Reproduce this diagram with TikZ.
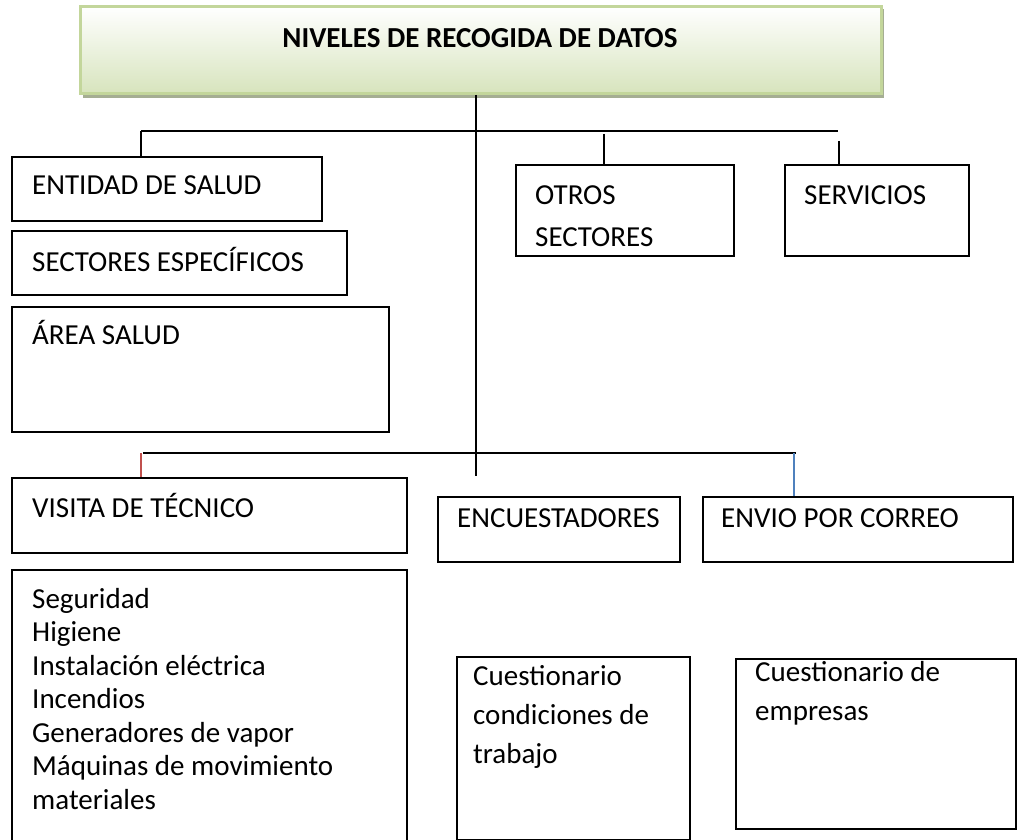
\documentclass[tikz,border=0pt]{standalone}
\usepackage{fontspec}
\setmainfont{Carlito}
\definecolor{tborder}{HTML}{C3D69B}
\definecolor{tshadow}{HTML}{A5AE93}
\definecolor{tfill}{HTML}{D7E4BD}
\definecolor{redtick}{HTML}{C0504D}
\definecolor{bluetick}{HTML}{4F81BD}
\tikzset{
  box/.style={draw, line width=1.6pt, inner sep=0pt, anchor=north west},
  txt/.style={inner sep=0pt, anchor=base west, align=left, font=\fontsize{29}{33.5}\selectfont},
  conn/.style={line width=1.8pt},
  tick/.style={line width=1.4pt}
}
\begin{document}
\begin{tikzpicture}[x=1pt,y=-1pt]
\useasboundingbox (0,0) rectangle (1017,840);
\clip (0,0) rectangle (1017,840);
% title
\fill[tshadow] (83,9) rectangle (884,98);
\node[anchor=north west, minimum width=801pt, minimum height=87pt, inner sep=0pt,
      top color=white, bottom color=tfill, draw=tborder, line width=3pt] (title) at (79,5) {};
\node[inner sep=0pt, font=\fontsize{29}{33.5}\selectfont\bfseries] (titleT) at (480,38) {NIVELES DE RECOGIDA DE DATOS};
% coordinates
\coordinate (top) at (476,98);
\coordinate (bot) at (476,476);
\coordinate (b1l) at (141,131);
\coordinate (b1r) at (838,131);
\coordinate (b2l) at (143,453);
\coordinate (b2r) at (796,453);
\coordinate (t1) at (604,134);
\coordinate (t2) at (839,141);
\coordinate (t3) at (141,453);
\coordinate (t4) at (794,453);
% boxes upper
\node[box, minimum width=310pt, minimum height=64pt] (ent) at (11,156) {};
\node[box, minimum width=335pt, minimum height=64pt] (sec) at (11,230) {};
\node[box, minimum width=377pt, minimum height=125pt] (area) at (11,306) {};
\node[box, minimum width=218pt, minimum height=91pt] (otros) at (515,164) {};
\node[box, minimum width=184pt, minimum height=91pt] (serv) at (784,164) {};
% boxes lower
\node[box, minimum width=395pt, minimum height=75pt] (vis) at (11,477) {};
\node[box, minimum width=242pt, minimum height=65pt] (enc) at (437,496) {};
\node[box, minimum width=310pt, minimum height=65pt] (env) at (702,496) {};
\node[box, minimum width=395pt, minimum height=290pt] (list) at (11,569) {};
\node[box, minimum width=233pt, minimum height=183pt] (cuest1) at (456,656) {};
\node[box, minimum width=280pt, minimum height=170pt] (cuest2) at (735,658) {};
% texts (multi-line nodes: base = last line)
\node[txt] (entT) at (32,194) {ENTIDAD DE SALUD};
\node[txt] (secT) at (32,271) {SECTORES ESPECÍFICOS};
\node[txt] (areaT) at (32,344) {ÁREA SALUD};
\node[txt, font=\fontsize{29}{42}\selectfont] (otrosT) at (535,246) {OTROS\\SECTORES};
\node[txt] (servT) at (804,204) {SERVICIOS};
\node[txt] (visT) at (32,517) {VISITA DE TÉCNICO};
\node[txt] (encT) at (457,527) {ENCUESTADORES};
\node[txt] (envT) at (721,527) {ENVIO POR CORREO};
\node[txt] (listT) at (32,809) {Seguridad\\Higiene\\Instalación eléctrica\\Incendios\\Generadores de vapor\\Máquinas de movimiento\\materiales};
\node[txt, font=\fontsize{29}{39}\selectfont] (c1T) at (473,763) {Cuestionario\\condiciones de\\trabajo};
\node[txt, font=\fontsize{29}{39}\selectfont] (c2T) at (755,720) {Cuestionario de\\empresas};
% connectors
\draw[conn] (title.south -| top) -- (bot);
\draw[conn] (b1l) -- (b1r);
\draw[conn] (b2l) -- (b2r);
\draw[conn] (b1l) -- (ent.north -| b1l);
\draw[conn] (t1) -- (otros.north -| t1);
\draw[conn] (t2) -- (serv.north -| t2);
\draw[tick, redtick] (t3) -- (vis.north -| t3);
\draw[tick, bluetick] (t4) -- (env.north -| t4);
\end{tikzpicture}
\end{document}
